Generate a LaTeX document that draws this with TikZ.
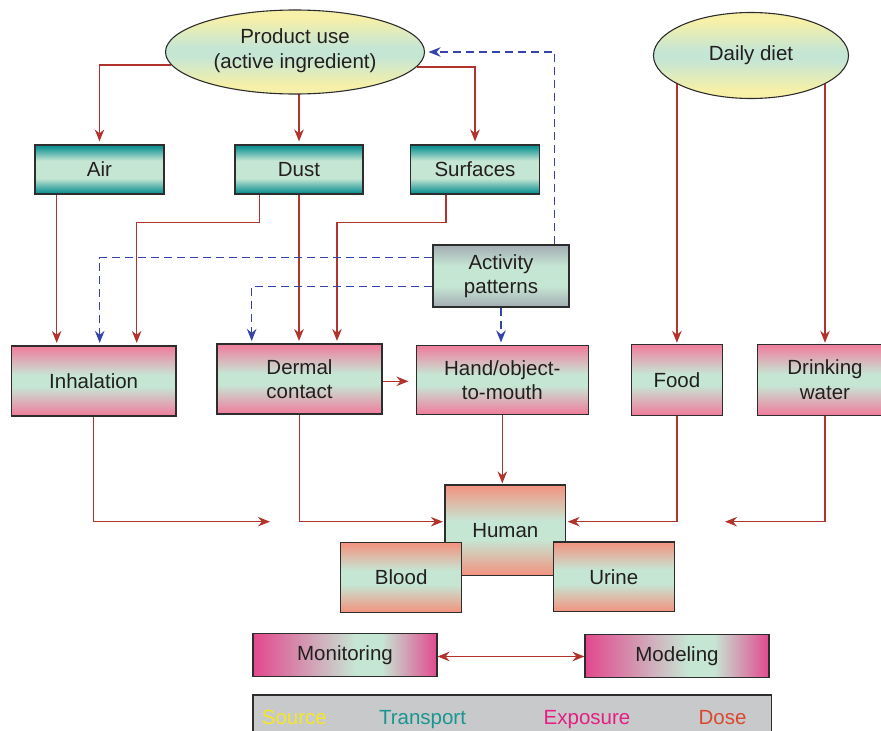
\documentclass[tikz,border=0pt]{standalone}
\usepackage{fontspec}
\setmainfont{Liberation Sans}
\usetikzlibrary{shapes.geometric,arrows.meta,backgrounds}
\definecolor{tealc}{RGB}{20,148,148}
\definecolor{midg}{RGB}{198,230,212}
\definecolor{pinkc}{RGB}{238,128,158}
\definecolor{salmc}{RGB}{240,150,130}
\definecolor{yelc}{RGB}{246,240,168}
\definecolor{greyc}{RGB}{165,175,180}
\definecolor{magc}{RGB}{226,72,142}
\definecolor{arrred}{RGB}{176,52,44}
\definecolor{arrblue}{RGB}{52,68,170}
\definecolor{edgec}{RGB}{45,45,45}
\definecolor{txtc}{RGB}{35,31,32}
\definecolor{leggrey}{RGB}{200,201,203}
\definecolor{srcyel}{RGB}{245,230,40}
\definecolor{trteal}{RGB}{26,149,144}
\definecolor{exmag}{RGB}{228,30,130}
\definecolor{dosered}{RGB}{217,73,47}
\pgfdeclareverticalshading{transpshade}{100bp}{color(0bp)=(tealc); color(27bp)=(tealc); color(41bp)=(midg); color(59bp)=(midg); color(73bp)=(tealc); color(100bp)=(tealc)}
\pgfdeclareverticalshading{exposhade}{100bp}{color(0bp)=(pinkc); color(26bp)=(pinkc); color(46bp)=(midg); color(54bp)=(midg); color(74bp)=(pinkc); color(100bp)=(pinkc)}
\pgfdeclareverticalshading{doseshade}{100bp}{color(0bp)=(salmc); color(26bp)=(salmc); color(45bp)=(midg); color(55bp)=(midg); color(74bp)=(salmc); color(100bp)=(salmc)}
\pgfdeclareverticalshading{ellshade}{100bp}{color(0bp)=(yelc); color(30bp)=(yelc); color(47bp)=(midg); color(53bp)=(midg); color(70bp)=(yelc); color(100bp)=(yelc)}
\pgfdeclareverticalshading{actshade}{100bp}{color(0bp)=(greyc); color(26bp)=(greyc); color(42bp)=(midg); color(58bp)=(midg); color(74bp)=(greyc); color(100bp)=(greyc)}
\pgfdeclarehorizontalshading{methshade}{100bp}{color(0bp)=(magc); color(25bp)=(magc); color(53bp)=(midg); color(60bp)=(midg); color(75bp)=(magc); color(100bp)=(magc)}
\tikzset{
  basebox/.style={draw=edgec, line width=1.1pt, inner sep=0pt, text=txtc, align=center,
    font=\fontsize{20.5}{24.5}\selectfont},
  transp/.style={basebox, rectangle, shade, shading=transpshade},
  expo/.style={basebox, rectangle, shade, shading=exposhade},
  dosebox/.style={basebox, rectangle, shade, shading=doseshade},
  srcell/.style={basebox, ellipse, shade, shading=ellshade},
  actbox/.style={basebox, rectangle, shade, shading=actshade},
  methbox/.style={basebox, rectangle, shade, shading=methshade},
  legtext/.style={font=\fontsize{20.5}{25}\selectfont, anchor=base, inner sep=0pt},
  redarrow/.style={draw=arrred, line width=1.5pt, -{Stealth[length=12pt,width=9.5pt]}},
  redboth/.style={draw=arrred, line width=1.5pt, {Stealth[length=12pt,width=9.5pt]}-{Stealth[length=12pt,width=9.5pt]}},
  bluearrow/.style={draw=arrblue, line width=1.4pt, dash pattern=on 8pt off 5pt, -{Stealth[length=12pt,width=9.5pt]}}
}
\begin{document}
\begin{tikzpicture}[x=1pt,y=-1pt]
\useasboundingbox (0,0) rectangle (881,731);
% sources
\node[srcell, minimum width=259pt, minimum height=84pt] (prod) at (295,52) {Product use\\(active ingredient)\rule{0pt}{0pt}\vspace*{3pt}};
\node[srcell, minimum width=195pt, minimum height=86pt] (diet) at (751,55.5) {Daily diet};
% transport
\node[transp, minimum width=129pt, minimum height=49pt] (air) at (99.5,169.5) {Air};
\node[transp, minimum width=128pt, minimum height=49pt] (dust) at (299,169.5) {Dust};
\node[transp, minimum width=129pt, minimum height=49pt] (surf) at (475,169.5) {Surfaces};
\node[actbox, minimum width=136pt, minimum height=62pt] (act) at (501,276) {Activity\\patterns};
% exposure
\node[expo, minimum width=164.5pt, minimum height=70pt] (inh) at (93.7,381) {Inhalation};
\node[expo, minimum width=165pt, minimum height=70pt] (derm) at (299.5,379) {Dermal\\contact};
\node[expo, minimum width=171.5pt, minimum height=69pt] (hand) at (502.3,380) {Hand/object-\\to-mouth};
\node[expo, minimum width=91.7pt, minimum height=70.7pt] (food) at (676.9,379.7) {Food};
\node[expo, minimum width=135.4pt, minimum height=70.7pt] (water) at (825,379.7) {Drinking\\water};
% dose
\node[dosebox, minimum width=120.7pt, minimum height=90.7pt] (human) at (505.3,530.3) {Human};
\node[dosebox, minimum width=121pt, minimum height=69.6pt] (blood) at (401.2,577.5) {Blood};
\node[dosebox, minimum width=121pt, minimum height=69.7pt] (urine) at (613.8,576.8) {Urine};
% methods
\node[methbox, minimum width=184pt, minimum height=43pt] (mon) at (345,655) {Monitoring};
\node[methbox, minimum width=184pt, minimum height=43pt] (mod) at (677,656.3) {Modeling};
% legend
\node[draw=edgec, fill=leggrey, line width=1.1pt, minimum width=518.6pt, minimum height=50pt, inner sep=0pt] (legend) at (512.3,720) {};
\node[legtext, text=srcyel] (lsrc) at (294.4,724) {Source};
\node[legtext, text=trteal] (ltr) at (422.5,724) {Transport};
\node[legtext, text=exmag] (lexp) at (587,724) {Exposure};
\node[legtext, text=dosered] (ldose) at (722.5,724) {Dose};
\coordinate (inhend) at (270,521.7);
\coordinate (waterend) at (725,521.7);
\begin{scope}[on background layer]
% red connectors
\draw[redarrow, shorten >=3pt] (prod.186.9) -| (air.north);
\draw[redarrow, shorten >=3pt] (prod.center -| dust.north) -- (dust.north);
\draw[redarrow, shorten >=3pt] (prod.353.1) -| (surf.north);
\draw[redarrow, shorten >=2.5pt] ([xshift=-42.8pt]air.south) -- ([xshift=-42.8pt]air.south |- inh.north);
\draw[redarrow, shorten >=2.5pt] ([xshift=-39.6pt]dust.south) -- ++(0,28) -| ([xshift=43pt]inh.north);
\draw[redarrow, shorten >=2.5pt] (dust.south) -- (dust.south |- derm.north);
\draw[redarrow, shorten >=2.5pt] ([xshift=-29pt]surf.south) -- ++(0,28) -| ([xshift=37.5pt]derm.north);
\draw[redarrow, shorten >=7.5pt] ([yshift=-2.3pt]derm.east) -- ([yshift=-2.3pt]derm.east -| hand.west);
\draw[redarrow, shorten >=1pt] (diet.center -| food.north) -- (food.north);
\draw[redarrow, shorten >=1pt] (diet.center -| water.north) -- (water.north);
\draw[redarrow] (inh.south) |- (inhend);
\draw[redarrow, shorten >=1.5pt] (derm.south) |- ([yshift=8.6pt]human.west);
\draw[redarrow, shorten >=1pt] (hand.south) -- (hand.south |- human.north);
\draw[redarrow, shorten >=1.5pt] (food.south) |- ([yshift=8.6pt]human.east);
\draw[redarrow] (water.south) |- (waterend);
\draw[redboth] ([yshift=-1.5pt]mon.east) -- ([yshift=-1.5pt]mon.east -| mod.west);
% blue dashed connectors
\draw[bluearrow, shorten >=3.5pt] ([xshift=53.4pt]act.north) |- (prod.east);
\draw[bluearrow, shorten >=2.5pt] ([yshift=18.3pt]act.west) -| ([xshift=6pt]inh.north);
\draw[bluearrow, shorten >=2.5pt] ([yshift=-10.7pt]act.west) -| ([xshift=-47.8pt]derm.north);
\draw[bluearrow, shorten >=2.5pt] (act.south) -- (act.south |- hand.north);
\end{scope}
\end{tikzpicture}
\end{document}
